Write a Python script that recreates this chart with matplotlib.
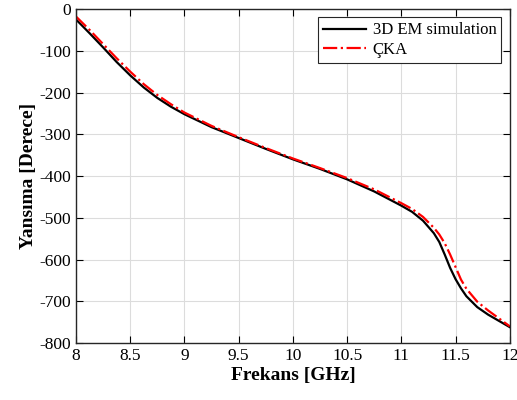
import numpy as np
import matplotlib
matplotlib.use("Agg")
import matplotlib.pyplot as plt

plt.rcParams['font.family'] = ['Liberation Serif', 'DejaVu Serif']
plt.rcParams['axes.unicode_minus'] = False

freq = [8, 8.125, 8.25, 8.375, 8.5, 8.625, 8.75, 8.875, 9, 9.25, 9.5, 9.75,
        10, 10.25, 10.5, 10.75, 11, 11.1, 11.2, 11.3, 11.35, 11.4, 11.45,
        11.5, 11.55, 11.6, 11.7, 11.8, 11.9, 12]
em_sim = [-25, -58, -92, -127, -159, -188, -213, -234, -252, -283, -309, -335,
          -360, -383, -408, -437, -471, -486, -507, -537, -558, -588, -620,
          -647, -669, -688, -714, -732, -747, -762]
cka = [-18, -50, -84, -118, -150, -180, -206, -228, -248, -280, -307, -333,
       -358, -381, -405, -432, -465, -479, -498, -524, -540, -561, -588,
       -618, -648, -670, -701, -722, -741, -760]

fig = plt.figure(figsize=(5.17, 4.0), dpi=100)
ax = fig.add_axes([0.147, 0.1425, 0.839, 0.835])

ax.plot(freq, em_sim, color='black', lw=1.6, label='3D EM simulation')
ax.plot(freq, cka, color='red', lw=1.6, ls='-.', label='ÇKA')

ax.set_xlim(8, 12)
ax.set_ylim(-800, 0)
ax.set_xticks(np.arange(8, 12.01, 0.5))
ax.set_xticklabels(['8', '8.5', '9', '9.5', '10', '10.5', '11', '11.5', '12'])
ax.set_yticks(np.arange(-800, 1, 100))
ax.tick_params(direction='in', top=True, right=True, labelsize=12.5, length=5)
ax.grid(True, color='#dcdcdc', lw=0.8)
for s in ax.spines.values():
    s.set_linewidth(1.0)
    s.set_color('#262626')

ax.set_xlabel('Frekans [GHz]', fontsize=14, fontweight='bold', labelpad=2)
ax.set_ylabel('Yansıma [Derece]', fontsize=14, fontweight='bold', labelpad=2)

leg = ax.legend(loc='upper right', fontsize=12, fancybox=False, framealpha=1,
                edgecolor='#262626', handlelength=2.6, borderpad=0.3,
                labelspacing=0.2, handletextpad=0.4)
leg.get_frame().set_linewidth(0.8)

plt.savefig('out.png', dpi=100)
